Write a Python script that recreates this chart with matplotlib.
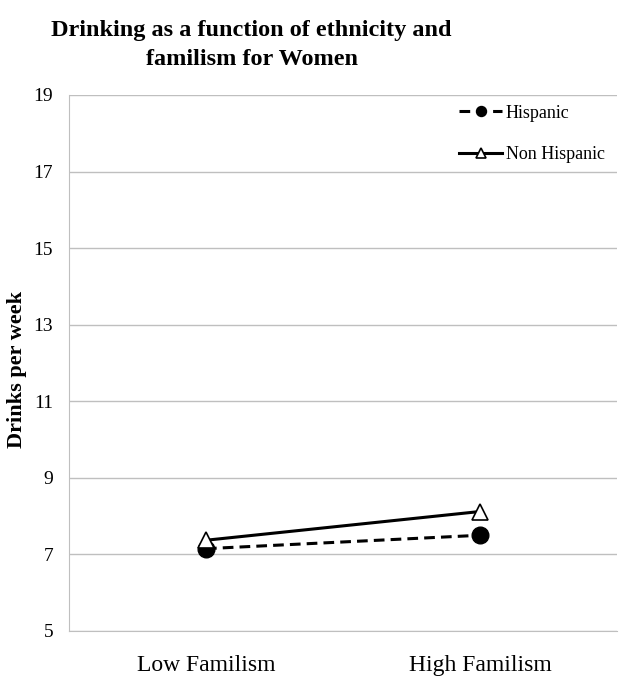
import matplotlib
matplotlib.use("Agg")
import matplotlib.pyplot as plt

plt.rcParams['font.family'] = ['Liberation Serif', 'DejaVu Serif']

categories = ['Low Familism', 'High Familism']
hispanic = [7.15, 7.5]
non_hispanic = [7.37, 8.12]
yticks = [5, 7, 9, 11, 13, 15, 17, 19]

fig = plt.figure(figsize=(6.29, 6.82), dpi=100)
ax = fig.add_axes([0.1097, 0.0748, 0.871, 0.786])

x = [0.5, 1.5]
ax.plot(x, hispanic, color='black', linestyle=(0, (3.5, 2)), linewidth=2.2,
        marker='o', markersize=12, markerfacecolor='black', label='Hispanic')
ax.plot(x, non_hispanic, color='black', linestyle='-', linewidth=2.2,
        marker='^', markersize=12, markerfacecolor='white', markeredgecolor='black',
        markeredgewidth=1.2, label='Non Hispanic')

ax.set_xlim(0, 2)
ax.set_ylim(5, 19)
ax.set_yticks(yticks)
ax.set_xticks(x)
ax.set_xticklabels(categories, fontsize=17)
ax.tick_params(axis='y', labelsize=14, length=0, pad=11.5)
ax.tick_params(axis='x', length=0, pad=17)
ax.yaxis.grid(True, color='#bfbfbf', linewidth=1)
ax.set_axisbelow(True)
for s in ['top', 'right']:
    ax.spines[s].set_visible(False)
ax.spines['left'].set_color('#bfbfbf')
ax.spines['bottom'].set_color('#bfbfbf')

ax.set_ylabel('Drinks per week', fontsize=16, fontweight='bold')
ax.yaxis.set_label_coords(-0.076, 0.487)

leg = ax.legend(loc='upper right', bbox_to_anchor=(1.008, 1.012), frameon=False,
                fontsize=13, handlelength=2.4, markerscale=0.6,
                labelspacing=1.35, handletextpad=0.2)

fig.text(0.40, 0.934, 'Drinking as a function of ethnicity and\nfamilism for Women',
         ha='center', va='center', fontsize=17.5, fontweight='bold', linespacing=1.45)

fig.savefig('out.png', dpi=100)
